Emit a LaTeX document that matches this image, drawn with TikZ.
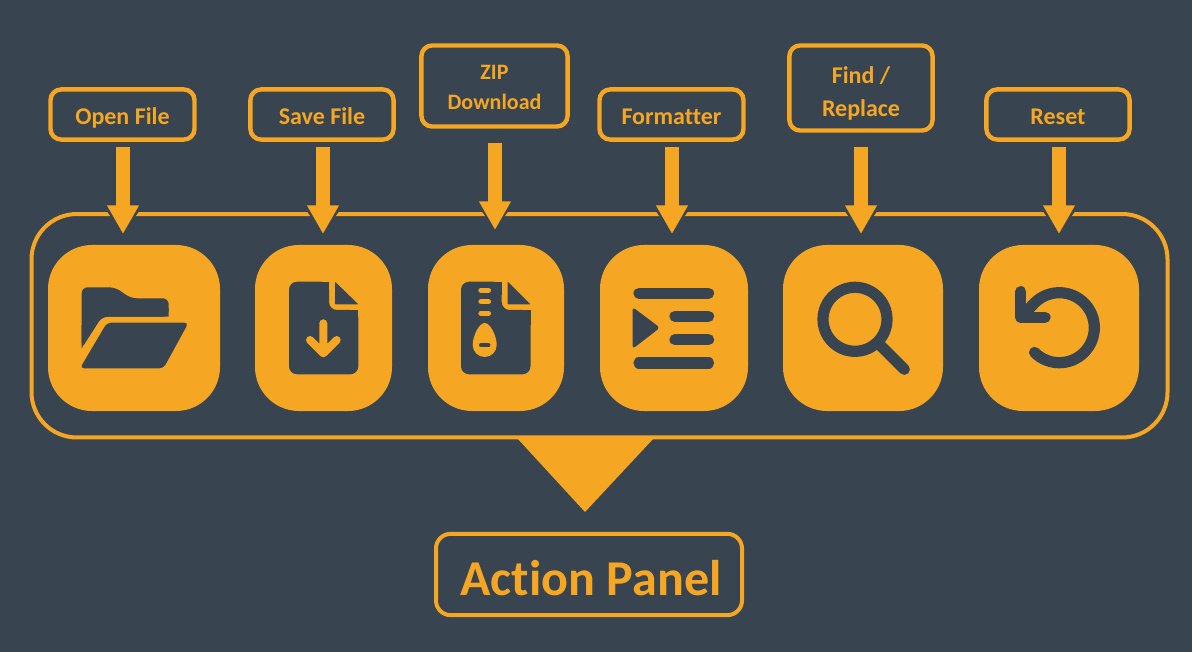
\documentclass[tikz,border=0pt]{standalone}
\usepackage{fontspec}
\usepackage{xcolor}
\usetikzlibrary{arrows.meta}
\setmainfont{Carlito}[Ligatures=NoCommon]
\definecolor{slatebg}{HTML}{38444F}
\definecolor{amber}{HTML}{F5A623}
\newcommand{\lbltiny}{\fontsize{18pt}{22.5pt}\selectfont\bfseries}
\newcommand{\lblzip}{\fontsize{16.5pt}{22.5pt}\selectfont\bfseries}
\newcommand{\lblhuge}{\fontsize{37.6pt}{42pt}\selectfont\bfseries}
\newcommand{\lbldrop}[1]{\rule{0pt}{#1}}
\newcommand{\lblstrut}{\rule[-4pt]{0pt}{23.5pt}}
\tikzset{
  lblbox/.style={draw=amber,line width=3.3pt,rounded corners=8pt,text=amber,align=center,inner sep=0pt,font=\lbltiny},
  tilebox/.style={fill=amber,rounded corners=33pt,minimum height=124.5pt,inner sep=0pt},
  arrowgap/.style={draw=slatebg,line width=10.5pt,-{Triangle[width=33.4pt,length=24.75pt]}},
  arrowmain/.style={draw=amber,line width=10.5pt,-{Triangle[width=22.5pt,length=21.5pt]}},
  iconline/.style={draw=slatebg,line width=8.4pt,line cap=round,line join=round},
  iconfill/.style={fill=slatebg,rounded corners=2pt},
  zipline/.style={draw=amber,line width=4pt,line cap=round},
}
\begin{document}
\begin{tikzpicture}[x=0.75pt,y=-0.75pt]
                \fill[slatebg] (0,0) rectangle (1192,652);

                % Panel
                \node[draw=amber,line width=3pt,rounded corners=34pt,minimum width=852pt,minimum height=167.6pt,inner sep=0pt] (panel) at (599.5,325.75) {};

                % Tiles
                \node[tilebox,minimum width=129pt] (tileopen) at (134,328) {};
                \node[tilebox,minimum width=102.75pt] (tilesave) at (323.5,328) {};
                \node[tilebox,minimum width=102pt] (tilezip) at (496,328) {};
                \node[tilebox,minimum width=111pt] (tilefmt) at (674,328) {};
                \node[tilebox,minimum width=120pt] (tilefind) at (863,328) {};
                \node[tilebox,minimum width=120pt] (tilereset) at (1059,328) {};

                % Labels
                \node[lblbox,minimum width=108pt,minimum height=37.6pt] (lblopen) at (122.5,114.5) {\lblstrut Open File};
                \node[lblbox,minimum width=107.4pt,minimum height=37.6pt] (lblsave) at (322,114.5) {\lblstrut Save File};
                \node[lblbox,font=\lblzip,minimum width=109.6pt,minimum height=60.8pt] (lblzip) at (494.5,86) {\lbldrop{13.5pt}ZIP\\Download};
                \node[lblbox,minimum width=108pt,minimum height=37.6pt] (lblfmt) at (671.5,114.5) {\lblstrut Formatter};
                \node[lblbox,minimum width=107.4pt,minimum height=63.8pt] (lblfind) at (861,88) {\lbldrop{20.5pt}Find /\\[2.25pt]Replace};
                \node[lblbox,minimum width=107.4pt,minimum height=37.6pt] (lblreset) at (1058,114.5) {\lblstrut Reset};

                % Arrow tips
                \coordinate (tipopen) at (123,234);
                \coordinate (tipsave) at (323,234);
                \coordinate (tipzip) at (495,230);
                \coordinate (tipfmt) at (672,234);
                \coordinate (tipfind) at (861,234);
                \coordinate (tipreset) at (1059,234);

                % Arrows
                \foreach \nm/\gp in {open/5,save/5,zip/14,fmt/5,find/14,reset/5} {
                    \draw[arrowgap] (lbl\nm.south -| tip\nm) -- (tip\nm);
                    \draw[arrowmain,shorten <=\gp*0.75pt] (lbl\nm.south -| tip\nm) -- (tip\nm);
                }

                % Action panel
                \node[lblbox,line width=3pt,rounded corners=11pt,font=\lblhuge,minimum width=229.5pt,minimum height=61pt] (lblaction) at (589,574.5) {\lbldrop{31.5pt}\hspace*{3pt}Action Panel};
                \coordinate (wedgel) at (517,438);
                \coordinate (wedger) at (654,438);
                \coordinate (wedgetip) at (585,512);
                \fill[amber] (wedgel) -- (wedger) -- (wedgetip) -- cycle;

                % Folder
                \fill[iconfill,rounded corners=4.5pt] (81.7,348.3) -- (81.7,287.3) -- (115,287.3) -- (131,298.3) -- (168.7,298.3) -- (168.7,316.7) -- (102,316.7) -- cycle;
                \fill[slatebg] (81.7,348.3) -- (81.7,325) -- (95,325) -- cycle;
                \fill[slatebg] (102,316.7) -- (168.7,316.7) -- (168.7,308) -- (110,308) -- cycle;
                \fill[iconfill,rounded corners=3pt] (107,322.7) -- (188.5,322.7) -- (163.5,368.3) -- (80,368.3) -- cycle;

                % Save
                \fill[iconfill,rounded corners=6pt] (289,281.7) -- (329,281.7) -- (329,310) -- (358.3,310) -- (358.3,374.3) -- (289,374.3) -- cycle;
                \fill[slatebg] (322,281.7) rectangle (329,295);
                \fill[slatebg] (345,310) rectangle (358.3,325);
                \fill[slatebg,rounded corners=0.5pt] (335,281.7) -- (358.3,304.3) -- (335,304.3) -- cycle;
                \draw[zipline,line width=6pt,line join=round] (323.3,323.3) -- (323.3,353.3) (310,340) -- (323.3,353.3) -- (336.7,340);

                % Zip
                \fill[iconfill,rounded corners=6pt] (461,281.7) -- (501.7,281.7) -- (501.7,310) -- (530.5,310) -- (530.5,374.3) -- (461,374.3) -- cycle;
                \fill[slatebg] (494,281.7) rectangle (501.7,295);
                \fill[slatebg] (517,310) rectangle (530.5,325);
                \fill[slatebg,rounded corners=0.5pt] (507.7,281.7) -- (530.5,304.3) -- (507.7,304.3) -- cycle;
                \foreach \ty in {290.3,301.7,313.3}
                    \draw[zipline] (481,\ty) -- (488.4,\ty);
                \fill[amber] (484.7,323) .. controls (479,323) and (472.7,336) .. (472.7,345) arc[start angle=180,end angle=360,radius=9pt] .. controls (496.7,336) and (490.4,323) .. (484.7,323) -- cycle;
                \draw[draw=slatebg,line width=3pt,line cap=round] (481,345.3) -- (488.4,345.3);

                % Formatter
                \draw[iconline] (639,293.3) -- (708.5,293.3);
                \draw[iconline] (639,363) -- (708.5,363);
                \draw[iconline] (675,316.3) -- (708.5,316.3);
                \draw[iconline] (675,339.7) -- (708.5,339.7);
                \fill[iconfill,rounded corners=2.5pt] (632.5,307) -- (660,327.7) -- (632.5,349) -- cycle;

                % Find
                \draw[iconline] (855,319.3) circle (24pt);
                \draw[iconline] (880,345) -- (904.3,369.3);

                % Reset
                \draw[iconline] (1059.3,327.7) ++(225:26.25pt) arc[start angle=225,end angle=495,radius=26.25pt] -- (1024,314);
                \draw[iconline] (1020.7,291.7) -- (1020.7,317.3) -- (1045,317.3);
            \end{tikzpicture}
\end{document}
